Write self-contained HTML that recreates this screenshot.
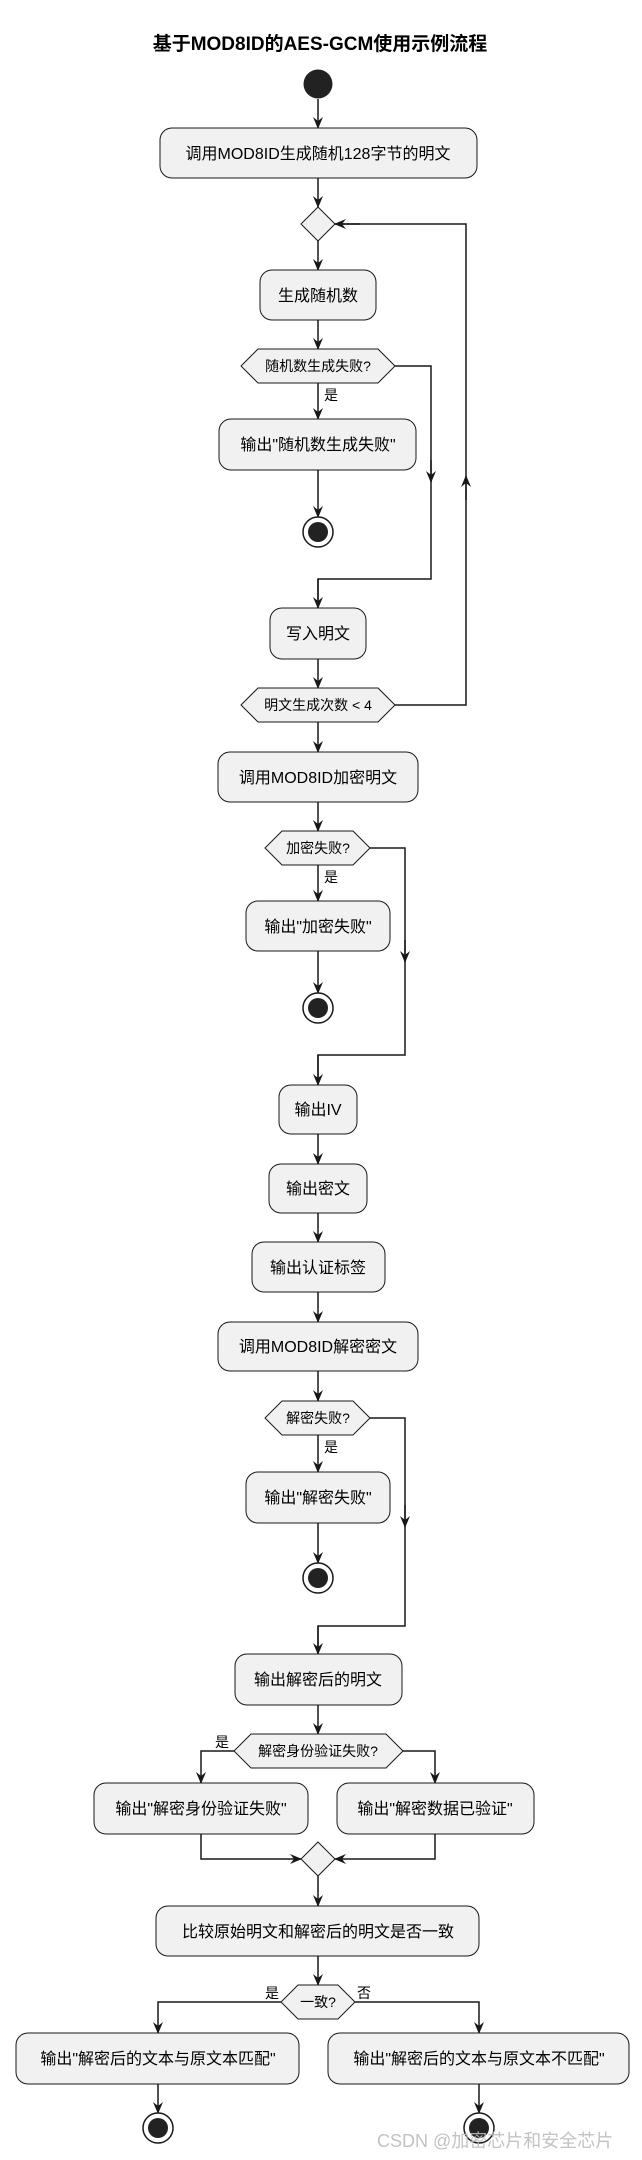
<!DOCTYPE html>
<html><head><meta charset="utf-8"><style>
html,body{margin:0;padding:0;background:#fff;}
svg{display:block;}
text{font-family:"Liberation Sans","Noto Sans CJK SC",sans-serif;fill:#000;}
.b{fill:#F1F1F1;stroke:#181818;stroke-width:1;}
.l{fill:none;stroke:#181818;stroke-width:1.5;}
.t{font-size:16px;text-anchor:middle;}
.h{font-size:14px;text-anchor:middle;}
.s{font-size:14px;}
</style></head><body>
<svg width="642" height="2160" viewBox="0 0 642 2160" xmlns="http://www.w3.org/2000/svg">
<defs>
<marker id="a" viewBox="0 0 12 10" refX="11" refY="5" markerWidth="12" markerHeight="10" markerUnits="userSpaceOnUse" orient="auto">
<path d="M0,0 L12,5 L0,10 L4,5 Z" fill="#181818"/>
</marker>
</defs>
<text x="320" y="50" style="font-size:19px;font-weight:bold;text-anchor:middle;">基于MOD8ID的AES-GCM使用示例流程</text>

<!-- start -->
<circle cx="318" cy="84" r="14.5" fill="#222"/>
<line class="l" x1="318" y1="99" x2="318" y2="128" marker-end="url(#a)"/>
<rect class="b" x="160" y="128" width="317" height="50" rx="12"/>
<text class="t" x="318" y="159">调用MOD8ID生成随机128字节的明文</text>
<line class="l" x1="318" y1="178" x2="318" y2="207" marker-end="url(#a)"/>
<polygon class="b" points="318,207 335,224 318,241 301,224"/>
<line class="l" x1="318" y1="241" x2="318" y2="270" marker-end="url(#a)"/>
<rect class="b" x="260" y="270" width="116" height="50" rx="12"/>
<text class="t" x="318" y="301">生成随机数</text>
<line class="l" x1="318" y1="320" x2="318" y2="349" marker-end="url(#a)"/>
<polygon class="b" points="258,349 378,349 395,366 378,383 258,383 241,366"/>
<text class="h" x="318" y="371">随机数生成失败?</text>
<text class="s" x="324" y="400">是</text>
<line class="l" x1="318" y1="383" x2="318" y2="419" marker-end="url(#a)"/>
<rect class="b" x="219" y="419" width="197" height="51" rx="12"/>
<text class="t" x="318" y="450">输出"随机数生成失败"</text>
<line class="l" x1="318" y1="470" x2="318" y2="517" marker-end="url(#a)"/>
<circle cx="318" cy="532" r="15" fill="#fff" stroke="#181818" stroke-width="1.5"/>
<circle cx="318" cy="532" r="10" fill="#222"/>
<polyline class="l" points="395,366 431,366 431,579 318,579 318,608"/>
<line class="l" x1="431" y1="460" x2="431" y2="482" marker-end="url(#a)"/>
<line class="l" x1="318" y1="579" x2="318" y2="608" marker-end="url(#a)"/>
<rect class="b" x="270" y="608" width="96" height="51" rx="12"/>
<text class="t" x="318" y="639">写入明文</text>
<line class="l" x1="318" y1="659" x2="318" y2="688" marker-end="url(#a)"/>
<polygon class="b" points="258,688 378,688 395,705 378,722 258,722 241,705"/>
<text class="h" x="318" y="710">明文生成次数 &lt; 4</text>
<polyline class="l" points="395,705 466,705 466,224 335,224"/>
<line class="l" x1="466" y1="500" x2="466" y2="476" marker-end="url(#a)"/>
<line class="l" x1="360" y1="224" x2="335" y2="224" marker-end="url(#a)"/>
<line class="l" x1="318" y1="722" x2="318" y2="752" marker-end="url(#a)"/>

<rect class="b" x="218" y="752" width="200" height="50" rx="12"/>
<text class="t" x="318" y="783">调用MOD8ID加密明文</text>
<line class="l" x1="318" y1="802" x2="318" y2="831" marker-end="url(#a)"/>
<polygon class="b" points="282,831 353,831 370,848 353,865 282,865 265,848"/>
<text class="h" x="318" y="853">加密失败?</text>
<text class="s" x="324" y="882">是</text>
<line class="l" x1="318" y1="865" x2="318" y2="901" marker-end="url(#a)"/>
<rect class="b" x="246" y="901" width="144" height="50" rx="12"/>
<text class="t" x="318" y="932">输出"加密失败"</text>
<line class="l" x1="318" y1="951" x2="318" y2="993" marker-end="url(#a)"/>
<circle cx="318" cy="1008" r="15" fill="#fff" stroke="#181818" stroke-width="1.5"/>
<circle cx="318" cy="1008" r="10" fill="#222"/>
<polyline class="l" points="370,848 405,848 405,1055 318,1055 318,1085"/>
<line class="l" x1="405" y1="940" x2="405" y2="962" marker-end="url(#a)"/>
<line class="l" x1="318" y1="1055" x2="318" y2="1085" marker-end="url(#a)"/>
<rect class="b" x="279" y="1085" width="78" height="49" rx="12"/>
<text class="t" x="318" y="1115">输出IV</text>
<line class="l" x1="318" y1="1134" x2="318" y2="1164" marker-end="url(#a)"/>
<rect class="b" x="269" y="1164" width="98" height="49" rx="12"/>
<text class="t" x="318" y="1194">输出密文</text>
<line class="l" x1="318" y1="1213" x2="318" y2="1242" marker-end="url(#a)"/>
<rect class="b" x="252" y="1242" width="133" height="50" rx="12"/>
<text class="t" x="318" y="1273">输出认证标签</text>
<line class="l" x1="318" y1="1292" x2="318" y2="1322" marker-end="url(#a)"/>
<rect class="b" x="218" y="1322" width="200" height="49" rx="12"/>
<text class="t" x="318" y="1352">调用MOD8ID解密密文</text>
<line class="l" x1="318" y1="1371" x2="318" y2="1401" marker-end="url(#a)"/>
<polygon class="b" points="282,1401 353,1401 370,1418 353,1435 282,1435 265,1418"/>
<text class="h" x="318" y="1423">解密失败?</text>
<text class="s" x="324" y="1452">是</text>
<line class="l" x1="318" y1="1435" x2="318" y2="1472" marker-end="url(#a)"/>
<rect class="b" x="246" y="1472" width="144" height="51" rx="12"/>
<text class="t" x="318" y="1503">输出"解密失败"</text>
<line class="l" x1="318" y1="1523" x2="318" y2="1563" marker-end="url(#a)"/>
<circle cx="318" cy="1578" r="15" fill="#fff" stroke="#181818" stroke-width="1.5"/>
<circle cx="318" cy="1578" r="10" fill="#222"/>
<polyline class="l" points="370,1418 405,1418 405,1626 318,1626 318,1654"/>
<line class="l" x1="405" y1="1505" x2="405" y2="1527" marker-end="url(#a)"/>
<line class="l" x1="318" y1="1626" x2="318" y2="1654" marker-end="url(#a)"/>
<rect class="b" x="235" y="1654" width="167" height="51" rx="12"/>
<text class="t" x="318" y="1685">输出解密后的明文</text>
<line class="l" x1="318" y1="1705" x2="318" y2="1734" marker-end="url(#a)"/>
<polygon class="b" points="251,1734 386,1734 403,1751 386,1768 251,1768 234,1751"/>
<text class="h" x="318" y="1756">解密身份验证失败?</text>
<text class="s" x="215" y="1747">是</text>
<polyline class="l" points="234,1751 201,1751 201,1783" marker-end="url(#a)"/>
<polyline class="l" points="403,1751 435,1751 435,1783" marker-end="url(#a)"/>
<rect class="b" x="94" y="1783" width="214" height="51" rx="12"/>
<text class="t" x="201" y="1814">输出"解密身份验证失败"</text>
<rect class="b" x="337" y="1783" width="197" height="51" rx="12"/>
<text class="t" x="435" y="1814">输出"解密数据已验证"</text>
<polyline class="l" points="201,1834 201,1859 301,1859" marker-end="url(#a)"/>
<polyline class="l" points="435,1834 435,1859 335,1859" marker-end="url(#a)"/>
<polygon class="b" points="318,1842 335,1859 318,1876 301,1859"/>
<line class="l" x1="318" y1="1876" x2="318" y2="1906" marker-end="url(#a)"/>
<rect class="b" x="156" y="1906" width="323" height="50" rx="12"/>
<text class="t" x="318" y="1937">比较原始明文和解密后的明文是否一致</text>
<line class="l" x1="318" y1="1956" x2="318" y2="1985" marker-end="url(#a)"/>
<polygon class="b" points="298,1985 338,1985 355,2002 338,2019 298,2019 281,2002"/>
<text class="h" x="318" y="2007">一致?</text>
<text class="s" x="265" y="1998">是</text>
<text class="s" x="357" y="1998">否</text>
<polyline class="l" points="281,2002 158,2002 158,2033" marker-end="url(#a)"/>
<polyline class="l" points="355,2002 479,2002 479,2033" marker-end="url(#a)"/>
<rect class="b" x="16" y="2033" width="283" height="51" rx="12"/>
<text class="t" x="158" y="2064">输出"解密后的文本与原文本匹配"</text>
<rect class="b" x="328" y="2033" width="301" height="51" rx="12"/>
<text class="t" x="479" y="2064">输出"解密后的文本与原文本不匹配"</text>
<line class="l" x1="158" y1="2084" x2="158" y2="2113" marker-end="url(#a)"/>
<line class="l" x1="479" y1="2084" x2="479" y2="2113" marker-end="url(#a)"/>
<circle cx="158" cy="2128" r="15" fill="#fff" stroke="#181818" stroke-width="1.5"/>
<circle cx="158" cy="2128" r="10" fill="#222"/>
<circle cx="479" cy="2128" r="15" fill="#fff" stroke="#181818" stroke-width="1.5"/>
<circle cx="479" cy="2128" r="10" fill="#222"/>
<text x="377" y="2147" style="font-size:18px;fill:#bbb;fill-opacity:0.9;">CSDN @加密芯片和安全芯片</text>
</svg>
</body></html>
